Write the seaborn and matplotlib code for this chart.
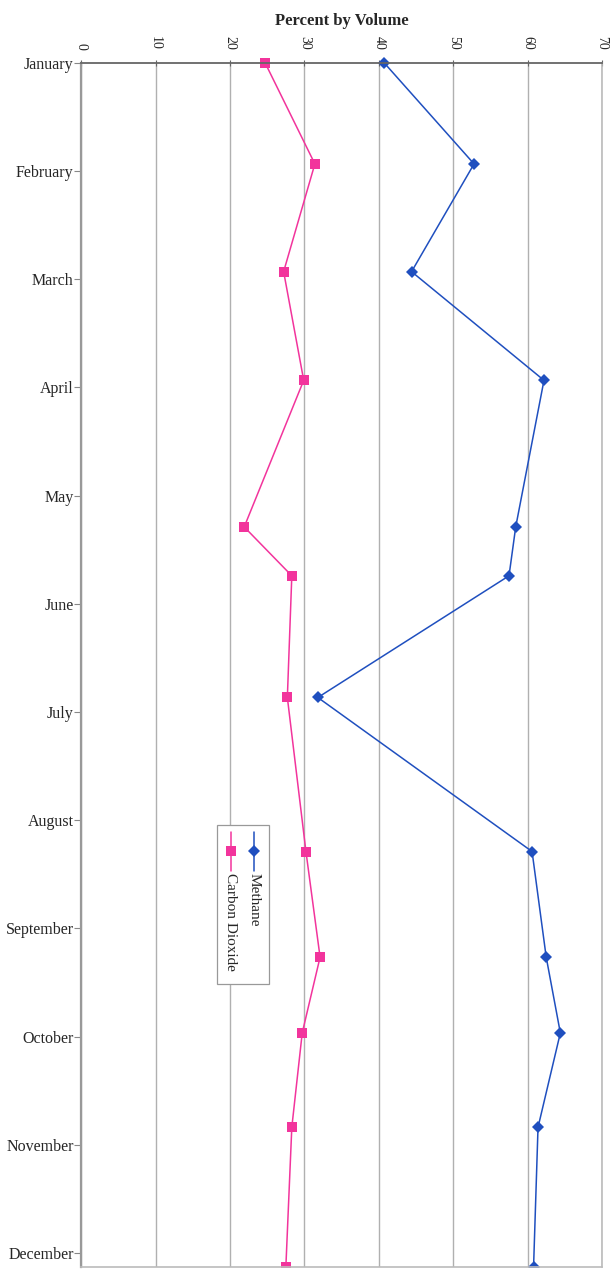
import calendar
import matplotlib
matplotlib.use("Agg")
import matplotlib.pyplot as plt
from matplotlib.lines import Line2D
from matplotlib.patches import Rectangle
import numpy as np
import pandas as pd
import seaborn as sns

# Sampling dates and measured gas composition (percent by volume)
sample_dates = ["2000-01-01", "2000-01-30", "2000-02-28", "2000-03-30",
                "2000-05-10", "2000-05-24", "2000-06-27", "2000-08-10",
                "2000-09-09", "2000-09-30", "2000-10-27", "2000-12-05"]
methane = [40.7, 52.8, 44.4, 62.2, 58.4, 57.5, 31.8, 60.6, 62.5, 64.4, 61.4, 60.8]
carbon_dioxide = [24.7, 31.4, 27.2, 29.9, 21.9, 28.3, 27.7, 30.2, 32.1, 29.7, 28.3, 27.5]
months = ["January", "February", "March", "April", "May", "June", "July",
          "August", "September", "October", "November", "December"]
x_ticks = [0, 10, 20, 30, 40, 50, 60, 70]

BLUE = "#1f4fbf"
PINK = "#f2349c"

# Position of each sample along a month-spaced axis (January = 0)
dates = pd.to_datetime(sample_dates)
pos = np.array([d.month - 1 + (d.day - 1) / calendar.monthrange(d.year, d.month)[1]
                for d in dates])

df = pd.concat([
    pd.DataFrame({"pos": pos, "value": methane, "gas": "Methane"}),
    pd.DataFrame({"pos": pos, "value": carbon_dioxide, "gas": "Carbon Dioxide"}),
], ignore_index=True)

sns.set_theme(style="white")
plt.rcParams["font.family"] = ["Liberation Serif", "DejaVu Serif"]

W, H = 614, 1269
fig = plt.figure(figsize=(W / 100, H / 100), dpi=100)
ax = fig.add_axes([81.3 / W, 1 - 1266.9 / H, (602 - 81.3) / W, (1266.9 - 62.7) / H])

sns.lineplot(data=df, x="value", y="pos", hue="gas", style="gas",
             palette={"Methane": BLUE, "Carbon Dioxide": PINK},
             markers={"Methane": "D", "Carbon Dioxide": "s"}, dashes=False,
             estimator=None, sort=False, legend=False, linewidth=1.1,
             markersize=6.5, markeredgewidth=0, ax=ax)

# Let the first markers sit over the top edge; the last ones stay cut at the bottom
for line in ax.lines:
    clip = Rectangle((0, 0), 1, 1.03, transform=ax.transAxes)
    line.set_clip_path(clip)

ax.set_xlim(0, 70)
ax.set_ylim(pos[-1], 0)

# Value axis on top, labels turned to read downwards
ax.xaxis.set_ticks_position("top")
ax.xaxis.set_label_position("top")
ax.set_xticks(x_ticks)
ax.set_xticklabels([str(t) for t in x_ticks], rotation=-90, fontsize=10,
                   va="bottom", ha="center")
ax.set_xlabel("Percent by Volume", fontsize=12, fontweight="bold", labelpad=8)
ax.tick_params(axis="x", direction="inout", length=5, width=0.8,
               color="#666666", pad=7)

ax.set_yticks(range(len(months)))
ax.set_yticklabels(months, fontsize=11.5)
ax.set_ylabel("")
ax.tick_params(axis="y", direction="out", length=5, width=0.8,
               color="#888888", pad=0.5, left=True)

ax.grid(axis="x", color="#b0b0b0", linewidth=1.0)
ax.grid(axis="y", visible=False)
ax.spines["top"].set_color("#666666")
ax.spines["top"].set_linewidth(1.3)
ax.spines["left"].set_color("#999999")
ax.spines["left"].set_linewidth(1.6)
for s in ("right", "bottom"):
    ax.spines[s].set_color("#bbbbbb")
    ax.spines[s].set_linewidth(1.2)

# Legend drawn sideways, in figure pixel coordinates
def fx(px):
    return px / W

def fy(py):
    return 1 - py / H

fig.patches.append(Rectangle((fx(217.3), fy(984)), fx(269.3) - fx(217.3),
                             fy(825) - fy(984), transform=fig.transFigure,
                             facecolor="white", edgecolor="#999999",
                             linewidth=0.9, zorder=5))
for xc, color, marker, label in [(254, BLUE, "D", "Methane"),
                                 (230.7, PINK, "s", "Carbon Dioxide")]:
    fig.lines.append(Line2D([fx(xc), fx(xc)], [fy(832), fy(871)],
                            transform=fig.transFigure, color=color,
                            linewidth=1.1, zorder=6))
    fig.lines.append(Line2D([fx(xc)], [fy(851)], transform=fig.transFigure,
                            color=color, marker=marker, markersize=6.5,
                            markeredgewidth=0, linestyle="none", zorder=7))
    fig.text(fx(xc), fy(873), label, rotation=-90, ha="center", va="top",
             fontsize=11, zorder=7)

fig.savefig("out.png", dpi=100, facecolor="white")
